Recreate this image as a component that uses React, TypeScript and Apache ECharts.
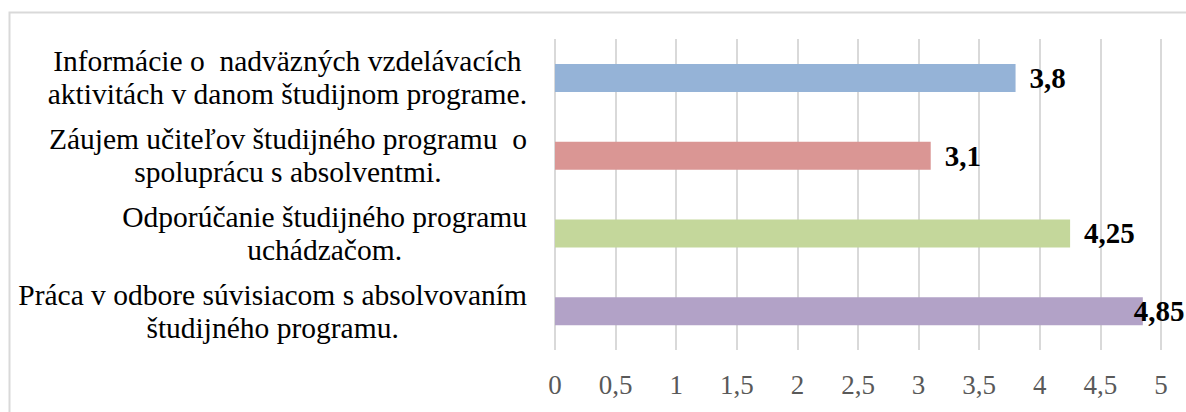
import React, { useEffect, useRef } from "react";
import * as echarts from "echarts";

const categories: string[] = [
  "Informácie o  nadväzných vzdelávacích\naktivitách v danom študijnom programe.",
  "Záujem učiteľov študijného programu  o\nspoluprácu s absolventmi.",
  "Odporúčanie študijného programu\nuchádzačom.",
  "Práca v odbore súvisiacom s absolvovaním\nštudijného programu.",
];
const values: number[] = [3.8, 3.1, 4.25, 4.85];
const colors: string[] = ["#95b3d7", "#da9694", "#c4d79b", "#b2a2c7"];
const xMin = 0;
const xMax = 5;
const xInterval = 0.5;

const FONT = "'Liberation Serif', 'Times New Roman', serif";

export default function App() {
  const ref = useRef<HTMLDivElement>(null);
  useEffect(() => {
    if (!ref.current) return;
    const chart = echarts.init(ref.current, undefined, { renderer: "svg" });
    const lastIdx = values.length - 1;
    chart.setOption({
      animation: false,
      backgroundColor: "#ffffff",
      graphic: [
        {
          type: "rect",
          left: 7,
          top: 10,
          shape: { width: 1200, height: 420 },
          style: { fill: "none", stroke: "#d9d9d9", lineWidth: 2 },
          z: -1,
        },
      ],
      grid: { left: 555, right: 25, top: 39, bottom: 62, containLabel: false },
      xAxis: {
        type: "value",
        min: xMin,
        max: xMax,
        interval: xInterval,
        axisLine: { show: false },
        axisTick: { show: false },
        splitLine: { show: true, lineStyle: { color: "#d9d9d9", width: 2 } },
        axisLabel: {
          margin: 21,
          color: "#595959",
          fontSize: 27,
          fontFamily: FONT,
          formatter: (v: number) => String(v).replace(".", ","),
        },
      },
      yAxis: {
        type: "category",
        inverse: true,
        data: categories,
        axisLine: { show: false },
        axisTick: { show: false },
        axisLabel: {
          margin: 28,
          color: "#000000",
          fontSize: 29.5,
          fontFamily: FONT,
          formatter: (v: string) =>
            v
              .split("\n")
              .map((l) => `{c|${l}}`)
              .join("\n"),
          rich: {
            c: {
              align: "center",
              fontSize: 29.5,
              fontFamily: FONT,
              color: "#000000",
              lineHeight: 33,
            },
          },
        },
      },
      series: [
        {
          type: "bar",
          barWidth: 28,
          data: values.map((v, i) => ({
            value: v,
            itemStyle: { color: colors[i] },
            label: i === lastIdx ? { distance: -9 } : undefined,
          })),
          label: {
            show: true,
            position: "right",
            distance: 14,
            color: "#000000",
            fontWeight: "bold",
            fontSize: 29,
            fontFamily: FONT,
            formatter: (p: any) => String(p.value).replace(".", ","),
          },
        },
      ],
    });
    return () => chart.dispose();
  }, []);
  return (
    <div
      ref={ref}
      style={{ position: "fixed", left: 0, top: 0, width: 1186, height: 412 }}
    />
  );
}
